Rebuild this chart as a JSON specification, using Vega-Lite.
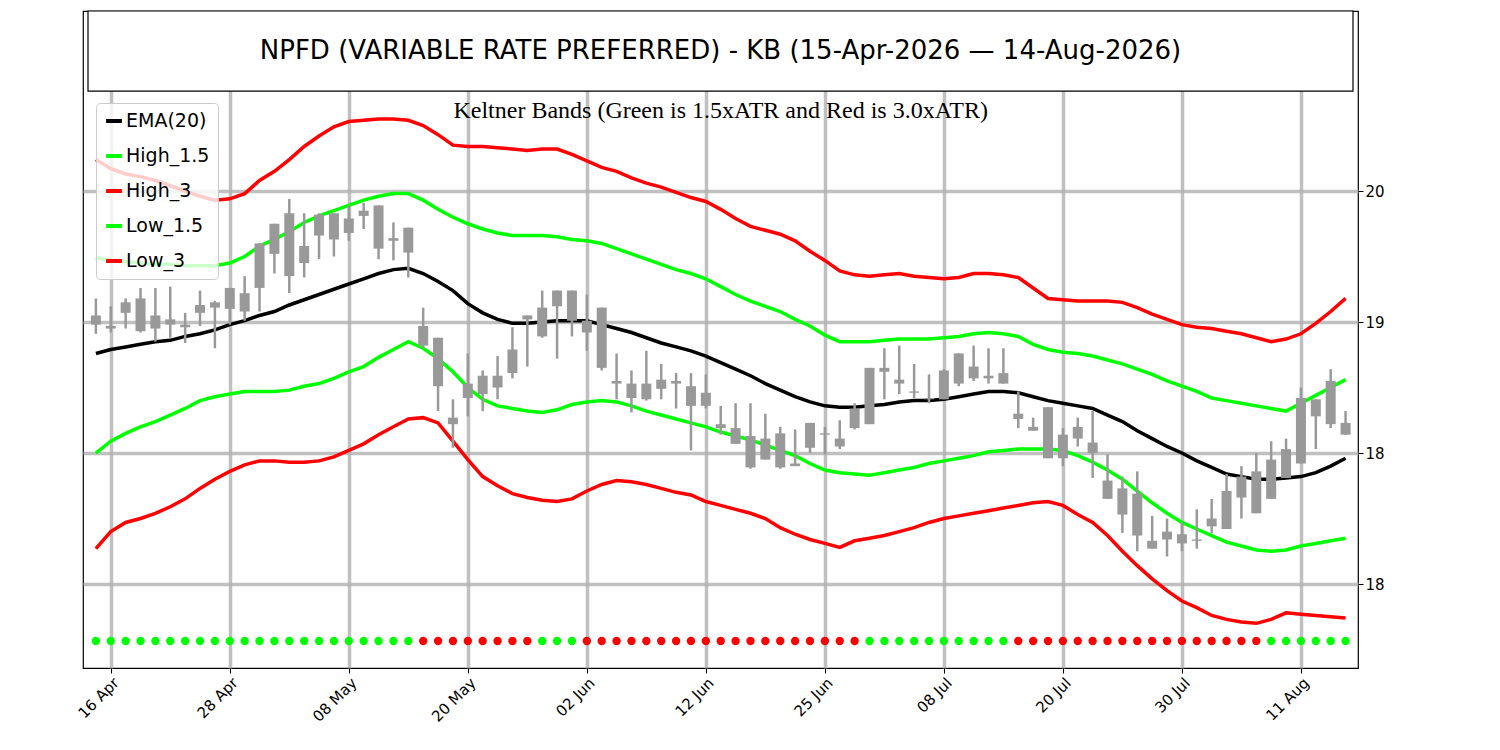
{
  "$schema": "https://vega.github.io/schema/vega-lite/v6.json",
  "padding": {"left": 75, "top": 10, "right": 5, "bottom": 5},
  "width": 1275,
  "height": 657,
  "config": {
    "view": {"stroke": "black", "strokeWidth": 1.2},
    "font": "DejaVu Sans",
    "axis": {"gridColor": "#b0b0b0", "gridWidth": 3.5, "gridOpacity": 0.8, "domain": false, "tickColor": "black", "labelColor": "black", "labelFont": "DejaVu Sans"}
  },
  "datasets": {
    "kb": [
      {"i":0,"h":19.18,"l":18.91,"o":19.05,"c":18.98,"e":18.76,"u1":19.49,"u3":20.24,"d1":18.00,"d3":17.27,"s":"g"},
      {"i":1,"h":19.12,"l":18.92,"o":18.97,"c":18.95,"e":18.79,"u1":19.47,"u3":20.17,"d1":18.09,"d3":17.40,"s":"g"},
      {"i":2,"h":19.18,"l":18.95,"o":19.15,"c":19.07,"e":18.81,"u1":19.46,"u3":20.13,"d1":18.15,"d3":17.47,"s":"g"},
      {"i":3,"h":19.26,"l":18.92,"o":19.18,"c":18.93,"e":18.83,"u1":19.45,"u3":20.11,"d1":18.20,"d3":17.50,"s":"g"},
      {"i":4,"h":19.26,"l":18.85,"o":19.05,"c":18.95,"e":18.85,"u1":19.44,"u3":20.08,"d1":18.24,"d3":17.54,"s":"g"},
      {"i":5,"h":19.27,"l":18.88,"o":19.02,"c":18.98,"e":18.86,"u1":19.44,"u3":20.04,"d1":18.29,"d3":17.59,"s":"g"},
      {"i":6,"h":19.07,"l":18.84,"o":18.98,"c":18.96,"e":18.89,"u1":19.43,"u3":20.00,"d1":18.34,"d3":17.65,"s":"g"},
      {"i":7,"h":19.24,"l":18.97,"o":19.13,"c":19.07,"e":18.91,"u1":19.43,"u3":19.96,"d1":18.40,"d3":17.73,"s":"g"},
      {"i":8,"h":19.16,"l":18.80,"o":19.15,"c":19.11,"e":18.94,"u1":19.43,"u3":19.93,"d1":18.43,"d3":17.80,"s":"g"},
      {"i":9,"h":19.26,"l":18.98,"o":19.26,"c":19.10,"e":18.98,"u1":19.45,"u3":19.94,"d1":18.45,"d3":17.86,"s":"g"},
      {"i":10,"h":19.35,"l":19.01,"o":19.22,"c":19.08,"e":19.01,"u1":19.50,"u3":19.98,"d1":18.47,"d3":17.91,"s":"g"},
      {"i":11,"h":19.60,"l":19.08,"o":19.60,"c":19.26,"e":19.05,"u1":19.58,"u3":20.08,"d1":18.47,"d3":17.94,"s":"g"},
      {"i":12,"h":19.75,"l":19.37,"o":19.75,"c":19.52,"e":19.08,"u1":19.63,"u3":20.15,"d1":18.47,"d3":17.94,"s":"g"},
      {"i":13,"h":19.94,"l":19.22,"o":19.83,"c":19.35,"e":19.13,"u1":19.69,"u3":20.24,"d1":18.48,"d3":17.93,"s":"g"},
      {"i":14,"h":19.83,"l":19.34,"o":19.58,"c":19.45,"e":19.17,"u1":19.76,"u3":20.34,"d1":18.51,"d3":17.93,"s":"g"},
      {"i":15,"h":19.83,"l":19.48,"o":19.82,"c":19.66,"e":19.21,"u1":19.81,"u3":20.42,"d1":18.53,"d3":17.94,"s":"g"},
      {"i":16,"h":19.83,"l":19.50,"o":19.83,"c":19.63,"e":19.25,"u1":19.85,"u3":20.49,"d1":18.57,"d3":17.97,"s":"g"},
      {"i":17,"h":19.89,"l":19.62,"o":19.79,"c":19.68,"e":19.29,"u1":19.89,"u3":20.53,"d1":18.62,"d3":18.02,"s":"g"},
      {"i":18,"h":19.91,"l":19.71,"o":19.85,"c":19.81,"e":19.33,"u1":19.93,"u3":20.54,"d1":18.66,"d3":18.07,"s":"g"},
      {"i":19,"h":19.89,"l":19.48,"o":19.89,"c":19.56,"e":19.37,"u1":19.96,"u3":20.55,"d1":18.73,"d3":18.14,"s":"g"},
      {"i":20,"h":19.76,"l":19.47,"o":19.64,"c":19.62,"e":19.40,"u1":19.98,"u3":20.55,"d1":18.79,"d3":18.20,"s":"g"},
      {"i":21,"h":19.72,"l":19.34,"o":19.72,"c":19.53,"e":19.41,"u1":19.98,"u3":20.54,"d1":18.85,"d3":18.26,"s":"g"},
      {"i":22,"h":19.11,"l":18.80,"o":18.97,"c":18.82,"e":19.37,"u1":19.93,"u3":20.50,"d1":18.80,"d3":18.27,"s":"r"},
      {"i":23,"h":18.88,"l":18.32,"o":18.88,"c":18.51,"e":19.31,"u1":19.86,"u3":20.43,"d1":18.72,"d3":18.23,"s":"r"},
      {"i":24,"h":18.41,"l":18.04,"o":18.27,"c":18.22,"e":19.24,"u1":19.80,"u3":20.35,"d1":18.62,"d3":18.09,"s":"r"},
      {"i":25,"h":18.76,"l":18.28,"o":18.53,"c":18.42,"e":19.14,"u1":19.75,"u3":20.34,"d1":18.50,"d3":17.95,"s":"r"},
      {"i":26,"h":18.63,"l":18.32,"o":18.59,"c":18.45,"e":19.07,"u1":19.71,"u3":20.34,"d1":18.41,"d3":17.82,"s":"r"},
      {"i":27,"h":18.74,"l":18.41,"o":18.59,"c":18.50,"e":19.02,"u1":19.68,"u3":20.33,"d1":18.36,"d3":17.75,"s":"r"},
      {"i":28,"h":18.96,"l":18.57,"o":18.79,"c":18.61,"e":18.99,"u1":19.66,"u3":20.32,"d1":18.34,"d3":17.69,"s":"r"},
      {"i":29,"h":19.05,"l":18.66,"o":19.05,"c":19.02,"e":18.99,"u1":19.66,"u3":20.31,"d1":18.32,"d3":17.66,"s":"r"},
      {"i":30,"h":19.24,"l":18.88,"o":19.11,"c":18.89,"e":19.00,"u1":19.66,"u3":20.32,"d1":18.31,"d3":17.64,"s":"g"},
      {"i":31,"h":19.24,"l":18.72,"o":19.24,"c":19.12,"e":19.01,"u1":19.65,"u3":20.32,"d1":18.33,"d3":17.63,"s":"g"},
      {"i":32,"h":19.24,"l":18.89,"o":19.24,"c":19.01,"e":19.01,"u1":19.63,"u3":20.28,"d1":18.37,"d3":17.65,"s":"g"},
      {"i":33,"h":19.21,"l":18.78,"o":19.01,"c":18.92,"e":19.01,"u1":19.62,"u3":20.23,"d1":18.39,"d3":17.71,"s":"r"},
      {"i":34,"h":19.11,"l":18.63,"o":19.11,"c":18.65,"e":18.98,"u1":19.60,"u3":20.18,"d1":18.40,"d3":17.76,"s":"r"},
      {"i":35,"h":18.76,"l":18.41,"o":18.55,"c":18.53,"e":18.95,"u1":19.56,"u3":20.15,"d1":18.39,"d3":17.79,"s":"r"},
      {"i":36,"h":18.63,"l":18.31,"o":18.53,"c":18.42,"e":18.92,"u1":19.52,"u3":20.10,"d1":18.36,"d3":17.78,"s":"r"},
      {"i":37,"h":18.78,"l":18.40,"o":18.53,"c":18.41,"e":18.88,"u1":19.48,"u3":20.06,"d1":18.32,"d3":17.76,"s":"r"},
      {"i":38,"h":18.68,"l":18.41,"o":18.56,"c":18.49,"e":18.84,"u1":19.44,"u3":20.03,"d1":18.29,"d3":17.73,"s":"r"},
      {"i":39,"h":18.61,"l":18.34,"o":18.55,"c":18.53,"e":18.81,"u1":19.40,"u3":19.99,"d1":18.26,"d3":17.70,"s":"r"},
      {"i":40,"h":18.61,"l":18.02,"o":18.51,"c":18.36,"e":18.78,"u1":19.37,"u3":19.95,"d1":18.23,"d3":17.68,"s":"r"},
      {"i":41,"h":18.60,"l":18.34,"o":18.46,"c":18.36,"e":18.74,"u1":19.33,"u3":19.92,"d1":18.20,"d3":17.63,"s":"r"},
      {"i":42,"h":18.36,"l":18.14,"o":18.22,"c":18.19,"e":18.69,"u1":19.27,"u3":19.86,"d1":18.16,"d3":17.60,"s":"r"},
      {"i":43,"h":18.38,"l":18.07,"o":18.19,"c":18.07,"e":18.64,"u1":19.21,"u3":19.79,"d1":18.13,"d3":17.57,"s":"r"},
      {"i":44,"h":18.38,"l":17.88,"o":18.13,"c":17.89,"e":18.59,"u1":19.16,"u3":19.73,"d1":18.10,"d3":17.54,"s":"r"},
      {"i":45,"h":18.30,"l":17.95,"o":18.11,"c":17.95,"e":18.53,"u1":19.12,"u3":19.70,"d1":18.06,"d3":17.50,"s":"r"},
      {"i":46,"h":18.20,"l":17.88,"o":18.15,"c":17.89,"e":18.48,"u1":19.08,"u3":19.67,"d1":18.02,"d3":17.43,"s":"r"},
      {"i":47,"h":18.18,"l":17.90,"o":17.92,"c":17.90,"e":18.43,"u1":19.02,"u3":19.62,"d1":17.98,"d3":17.38,"s":"r"},
      {"i":48,"h":18.23,"l":18.00,"o":18.23,"c":18.04,"e":18.39,"u1":18.97,"u3":19.54,"d1":17.92,"d3":17.34,"s":"r"},
      {"i":49,"h":18.20,"l":17.99,"o":18.15,"c":18.14,"e":18.36,"u1":18.90,"u3":19.47,"d1":17.87,"d3":17.31,"s":"r"},
      {"i":50,"h":18.25,"l":18.03,"o":18.11,"c":18.05,"e":18.35,"u1":18.85,"u3":19.39,"d1":17.85,"d3":17.28,"s":"r"},
      {"i":51,"h":18.38,"l":18.18,"o":18.34,"c":18.19,"e":18.35,"u1":18.85,"u3":19.36,"d1":17.84,"d3":17.33,"s":"r"},
      {"i":52,"h":18.65,"l":18.22,"o":18.65,"c":18.22,"e":18.36,"u1":18.85,"u3":19.35,"d1":17.83,"d3":17.35,"s":"g"},
      {"i":53,"h":18.80,"l":18.41,"o":18.65,"c":18.62,"e":18.37,"u1":18.86,"u3":19.36,"d1":17.85,"d3":17.37,"s":"g"},
      {"i":54,"h":18.82,"l":18.45,"o":18.56,"c":18.53,"e":18.39,"u1":18.87,"u3":19.37,"d1":17.87,"d3":17.40,"s":"g"},
      {"i":55,"h":18.68,"l":18.42,"o":18.47,"c":18.46,"e":18.40,"u1":18.87,"u3":19.35,"d1":17.89,"d3":17.43,"s":"g"},
      {"i":56,"h":18.60,"l":18.38,"o":18.42,"c":18.41,"e":18.40,"u1":18.87,"u3":19.34,"d1":17.92,"d3":17.47,"s":"g"},
      {"i":57,"h":18.64,"l":18.41,"o":18.63,"c":18.41,"e":18.41,"u1":18.88,"u3":19.33,"d1":17.94,"d3":17.50,"s":"g"},
      {"i":58,"h":18.76,"l":18.51,"o":18.76,"c":18.53,"e":18.43,"u1":18.89,"u3":19.34,"d1":17.96,"d3":17.52,"s":"g"},
      {"i":59,"h":18.82,"l":18.55,"o":18.66,"c":18.57,"e":18.45,"u1":18.91,"u3":19.37,"d1":17.98,"d3":17.54,"s":"g"},
      {"i":60,"h":18.80,"l":18.53,"o":18.59,"c":18.57,"e":18.47,"u1":18.92,"u3":19.37,"d1":18.01,"d3":17.56,"s":"g"},
      {"i":61,"h":18.80,"l":18.53,"o":18.61,"c":18.53,"e":18.47,"u1":18.91,"u3":19.36,"d1":18.02,"d3":17.58,"s":"g"},
      {"i":62,"h":18.47,"l":18.19,"o":18.30,"c":18.26,"e":18.46,"u1":18.89,"u3":19.34,"d1":18.03,"d3":17.60,"s":"r"},
      {"i":63,"h":18.27,"l":18.17,"o":18.20,"c":18.17,"e":18.43,"u1":18.83,"u3":19.26,"d1":18.03,"d3":17.62,"s":"r"},
      {"i":64,"h":18.35,"l":17.96,"o":18.35,"c":17.96,"e":18.40,"u1":18.79,"u3":19.18,"d1":18.03,"d3":17.63,"s":"r"},
      {"i":65,"h":18.19,"l":17.90,"o":18.14,"c":17.96,"e":18.38,"u1":18.77,"u3":19.17,"d1":18.02,"d3":17.60,"s":"r"},
      {"i":66,"h":18.27,"l":18.05,"o":18.20,"c":18.11,"e":18.36,"u1":18.76,"u3":19.16,"d1":17.98,"d3":17.53,"s":"r"},
      {"i":67,"h":18.32,"l":17.81,"o":18.08,"c":18.00,"e":18.34,"u1":18.74,"u3":19.16,"d1":17.93,"d3":17.47,"s":"r"},
      {"i":68,"h":17.99,"l":17.65,"o":17.79,"c":17.65,"e":18.29,"u1":18.71,"u3":19.16,"d1":17.87,"d3":17.37,"s":"r"},
      {"i":69,"h":17.82,"l":17.39,"o":17.73,"c":17.53,"e":18.24,"u1":18.68,"u3":19.15,"d1":17.80,"d3":17.25,"s":"r"},
      {"i":70,"h":17.86,"l":17.25,"o":17.69,"c":17.37,"e":18.17,"u1":18.64,"u3":19.11,"d1":17.71,"d3":17.14,"s":"r"},
      {"i":71,"h":17.52,"l":17.27,"o":17.33,"c":17.27,"e":18.11,"u1":18.60,"u3":19.06,"d1":17.62,"d3":17.04,"s":"r"},
      {"i":72,"h":17.50,"l":17.21,"o":17.40,"c":17.34,"e":18.05,"u1":18.55,"u3":19.02,"d1":17.54,"d3":16.95,"s":"r"},
      {"i":73,"h":17.47,"l":17.25,"o":17.38,"c":17.31,"e":18.00,"u1":18.51,"u3":18.98,"d1":17.47,"d3":16.87,"s":"r"},
      {"i":74,"h":17.57,"l":17.27,"o":17.34,"c":17.33,"e":17.94,"u1":18.47,"u3":18.96,"d1":17.42,"d3":16.82,"s":"r"},
      {"i":75,"h":17.65,"l":17.39,"o":17.50,"c":17.44,"e":17.89,"u1":18.42,"u3":18.95,"d1":17.37,"d3":16.76,"s":"r"},
      {"i":76,"h":17.84,"l":17.42,"o":17.71,"c":17.42,"e":17.84,"u1":18.40,"u3":18.93,"d1":17.32,"d3":16.73,"s":"r"},
      {"i":77,"h":17.90,"l":17.50,"o":17.82,"c":17.66,"e":17.82,"u1":18.38,"u3":18.91,"d1":17.29,"d3":16.71,"s":"r"},
      {"i":78,"h":18.00,"l":17.54,"o":17.86,"c":17.54,"e":17.80,"u1":18.36,"u3":18.88,"d1":17.26,"d3":16.70,"s":"r"},
      {"i":79,"h":18.09,"l":17.65,"o":17.95,"c":17.65,"e":17.80,"u1":18.34,"u3":18.85,"d1":17.25,"d3":16.73,"s":"g"},
      {"i":80,"h":18.11,"l":17.81,"o":18.03,"c":17.81,"e":17.81,"u1":18.32,"u3":18.87,"d1":17.26,"d3":16.78,"s":"g"},
      {"i":81,"h":18.50,"l":17.92,"o":18.42,"c":17.92,"e":17.82,"u1":18.38,"u3":18.91,"d1":17.29,"d3":16.77,"s":"g"},
      {"i":82,"h":18.41,"l":18.03,"o":18.41,"c":18.28,"e":17.85,"u1":18.44,"u3":18.99,"d1":17.31,"d3":16.76,"s":"g"},
      {"i":83,"h":18.64,"l":18.19,"o":18.55,"c":18.22,"e":17.90,"u1":18.50,"u3":19.08,"d1":17.33,"d3":16.75,"s":"g"},
      {"i":84,"h":18.32,"l":18.14,"o":18.23,"c":18.14,"e":17.96,"u1":18.56,"u3":19.18,"d1":17.35,"d3":16.74,"s":"g"}
    ]
  },
  "data": {"name": "kb"},
  "encoding": {
    "x": {
      "field": "i", "type": "quantitative",
      "scale": {"domain": [-0.53, 84.5], "nice": false, "zero": false},
      "axis": {
        "title": null, "values": [1, 9, 17, 25, 33, 41, 49, 57, 65, 73, 81],
        "labelExpr": "['16 Apr','28 Apr','08 May','20 May','02 Jun','12 Jun','25 Jun','08 Jul','20 Jul','30 Jul','11 Aug'][(datum.value - 1) / 8]",
        "labelAngle": -45, "labelAlign": "right", "labelBaseline": "top", "labelFontSize": 15, "tickSize": 5
      }
    }
  },
  "layer": [
    {
      "mark": {"type": "line", "strokeWidth": 3.5},
      "transform": [{"fold": ["e", "u1", "u3", "d1", "d3"]}],
      "encoding": {
        "y": {
          "field": "value", "type": "quantitative",
          "scale": {"domain": [16.359, 21.374], "nice": false, "zero": false},
          "axis": {
            "title": null, "orient": "right", "values": [17, 18, 19, 20],
            "labelExpr": "datum.value == 17 ? '18' : format(datum.value, 'd')",
            "labelFontSize": 15, "tickSize": 5
          }
        },
        "color": {
          "field": "key", "type": "nominal",
          "scale": {"domain": ["e", "u1", "u3", "d1", "d3"], "range": ["black", "#00ff00", "#ff0000", "#00ff00", "#ff0000"]},
          "legend": {
            "title": null, "orient": "none", "legendX": 13, "legendY": 92,
            "labelExpr": "{'e':'EMA(20)','u1':'High_1.5','u3':'High_3','d1':'Low_1.5','d3':'Low_3'}[datum.value]",
            "labelFontSize": 19, "labelFont": "DejaVu Sans", "symbolType": "stroke", "symbolStrokeWidth": 4, "symbolSize": 250,
            "rowPadding": 15, "padding": 8, "labelOffset": 2,
            "fillColor": "rgba(255,255,255,0.8)", "strokeColor": "#cccccc", "cornerRadius": 4
          }
        }
      }
    },
    {
      "mark": {"type": "rule", "color": "#999999", "strokeWidth": 2.5},
      "encoding": {"y": {"field": "l", "type": "quantitative"}, "y2": {"field": "h"}}
    },
    {
      "mark": {"type": "bar", "color": "#999999", "size": 10},
      "encoding": {"y": {"field": "o", "type": "quantitative"}, "y2": {"field": "c"}}
    },
    {
      "mark": {"type": "circle", "size": 70, "opacity": 1},
      "encoding": {
        "y": {"datum": 16.565},
        "fill": {"field": "s", "type": "nominal", "scale": {"domain": ["g", "r"], "range": ["#00ff00", "#ff0000"]}, "legend": null}
      }
    },
    {
      "data": {"values": [{"x0": -0.53, "x1": 84.5, "y0": 20.763, "y1": 21.374}]},
      "mark": {"type": "rect", "fill": "white", "stroke": "black", "strokeWidth": 1.2},
      "encoding": {
        "x": {"field": "x0", "type": "quantitative"},
        "x2": {"field": "x1"},
        "y": {"field": "y0", "type": "quantitative"},
        "y2": {"field": "y1"}
      }
    },
    {
      "data": {"values": [{"t": "NPFD (VARIABLE RATE PREFERRED) - KB (15-Apr-2026 — 14-Aug-2026)", "x": 41.985, "y": 21.069}]},
      "mark": {"type": "text", "font": "DejaVu Sans", "fontSize": 26, "color": "black"},
      "encoding": {
        "x": {"field": "x", "type": "quantitative"},
        "y": {"field": "y", "type": "quantitative"},
        "text": {"field": "t"}
      }
    },
    {
      "data": {"values": [{"t": "Keltner Bands (Green is 1.5xATR and Red is 3.0xATR)", "x": 42, "y": 20.61}]},
      "mark": {"type": "text", "font": "Liberation Serif", "fontSize": 24, "color": "black"},
      "encoding": {
        "x": {"field": "x", "type": "quantitative"},
        "y": {"field": "y", "type": "quantitative"},
        "text": {"field": "t"}
      }
    }
  ]
}
